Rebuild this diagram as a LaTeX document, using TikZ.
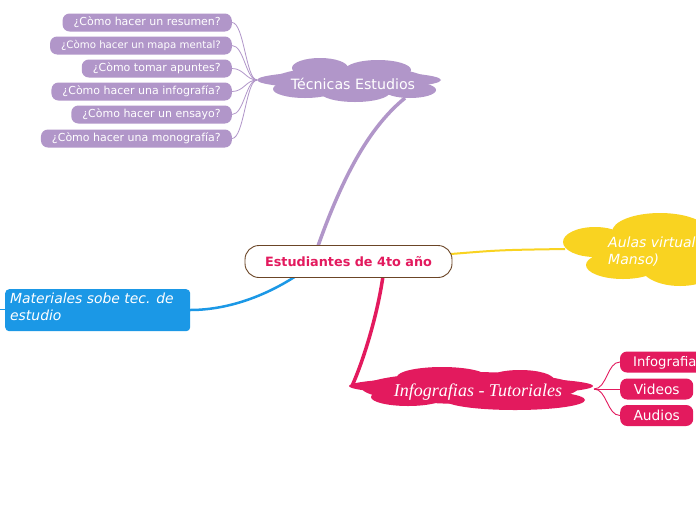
\documentclass[tikz,border=0pt]{standalone}
\usepackage{fontspec}
\setmainfont{DejaVu Sans}
\newfontfamily\serifit{Liberation Serif}
\definecolor{purp}{HTML}{B196C9}
\definecolor{pinkc}{HTML}{E31A5E}
\definecolor{yell}{HTML}{F9D321}
\definecolor{bluec}{HTML}{1B98E6}
\definecolor{brownb}{HTML}{6B4526}
\begin{document}
\begin{tikzpicture}[x=1pt,y=-1pt,
  pill/.style={rounded corners=7pt, minimum height=18pt, inner xsep=11pt, inner ysep=0pt, text=white, anchor=east, font=\fontsize{11}{13}\selectfont},
  ppill/.style={pill, fill=purp},
  kpill/.style={pill, fill=pinkc, anchor=west, minimum height=21pt, minimum width=73pt, inner xsep=13pt, font=\fontsize{13.8}{15}\selectfont},
  thinp/.style={purp, line width=0.8pt},
  thinpk/.style={pinkc, line width=0.9pt}]
\useasboundingbox (0,0) rectangle (696,520);
\clip (0,0) rectangle (696,520);
\fill[white] (0,0) rectangle (696,520);

% ---- main branches ----
\coordinate (tecA) at (405,98);
\coordinate (infA) at (352,386);
\coordinate (aulA) at (565,249);
\coordinate (matA) at (190,310);
\coordinate (cTop) at (318,246);
\coordinate (cBot) at (383,276);
\coordinate (cRight) at (451,254);
\coordinate (cLeft) at (296,276);

\draw[purp, line width=3.5pt] (cTop) .. controls (345,170) and (372,125) .. (tecA);
\draw[pinkc, line width=3.5pt] (cBot) .. controls (377,318) and (362,364) .. (infA);
\draw[bluec, line width=2.5pt] (cLeft) .. controls (262,298) and (225,310) .. (matA);
\draw[yell, line width=2pt] (cRight) .. controls (500,250) .. (aulA);

% ---- Técnicas cloud ----
\begin{scope}[purp]
\fill (349,80) ellipse [x radius=92, y radius=9];
\fill (350,81) ellipse [x radius=78, y radius=15];
\fill (320,68) ellipse [x radius=28, y radius=10];
\fill (378,70) ellipse [x radius=33, y radius=10];
\fill (305,89) ellipse [x radius=32, y radius=9];
\fill (355,92) ellipse [x radius=35, y radius=10];
\fill (410,90) ellipse [x radius=26, y radius=8];
\end{scope}
\node[text=white, font=\fontsize{14.2}{16}\selectfont] (tec) at (353,84) {Técnicas Estudios};
\coordinate (tecL) at (257,80);

% ---- purple pills ----
\node[ppill] (p1) at (232,22.5) {¿Còmo hacer un resumen?};
\node[ppill, font=\fontsize{10.2}{12}\selectfont] (p2) at (232,45.5) {¿Còmo hacer un mapa mental?};
\node[ppill] (p3) at (232,68.5) {¿Còmo tomar apuntes?};
\node[ppill] (p4) at (232,91.5) {¿Còmo hacer una infografía?};
\node[ppill] (p5) at (232,114.5) {¿Còmo hacer un ensayo?};
\node[ppill] (p6) at (232,138.5) {¿Còmo hacer una monografía?};
\foreach \n in {p1,p2,p3,p4,p5,p6}{
  \draw[thinp] (tecL) .. controls (246,80) and (244,0|-\n.east) .. (\n.east);
}

% ---- Infografias cloud ----
\begin{scope}[pinkc]
\fill (471,386) ellipse [x radius=122, y radius=9];
\fill (470,388) ellipse [x radius=108, y radius=16];
\fill (442,377) ellipse [x radius=45, y radius=10];
\fill (520,380) ellipse [x radius=34, y radius=10];
\fill (408,397) ellipse [x radius=37, y radius=9];
\fill (515,400) ellipse [x radius=70, y radius=10];
\end{scope}
\node[text=white, font=\serifit\itshape\fontsize{18}{20}\selectfont] (inf) at (478,392) {Infografias - Tutoriales};
\coordinate (infR) at (594,389);

\fill[pinkc, rounded corners=7pt] (620,351.5) rectangle (715,372.5);
\node[anchor=west, inner sep=0pt, text=white, font=\fontsize{13.2}{15}\selectfont] (k1) at (633,362.5) {Infografia};
\coordinate (k1w) at (620,362);
\node[kpill] (k2) at (620,389) {Videos};
\node[kpill] (k3) at (620,415.5) {Audios};
\foreach \n in {k1w,k2.west,k3.west}{
  \draw[thinpk] (infR) .. controls (607,389) and (607,0|-\n) .. (\n);
}

% ---- Aulas cloud ----
\begin{scope}[yell]
\fill (595,242) ellipse [x radius=32, y radius=15];
\fill (660,232) ellipse [x radius=48, y radius=19];
\fill (623,265) ellipse [x radius=37, y radius=14];
\fill (680,265) ellipse [x radius=40, y radius=21];
\fill (650,250) ellipse [x radius=60, y radius=25];
\end{scope}
\node[anchor=north west, text=white, align=left, inner sep=0pt, font=\itshape\fontsize{14}{17}\selectfont] (aul) at (608,237) {Aulas virtual\\Manso)};

% ---- Materiales box ----
\node[fill=bluec, rounded corners=4pt, minimum width=185pt, minimum height=42pt, inner sep=0pt, anchor=north west] (mat) at (5,289) {};
\node[anchor=north west, text=white, align=left, inner sep=0pt, font=\itshape\fontsize{13.9}{17}\selectfont] (matt) at (10,293) {Materiales sobe tec. de\\estudio};
\coordinate (matS) at (0,309);
\draw[bluec, line width=1pt] (mat.west|-matS) -- (matS);

% ---- central ----
\node[draw=brownb, line width=0.9pt, fill=white, rounded corners=14pt, minimum width=207pt, minimum height=32pt, text=pinkc, font=\bfseries\fontsize{12.8}{14}\selectfont] (c) at (348.5,261.5) {Estudiantes de 4to año};
\end{tikzpicture}
\end{document}
